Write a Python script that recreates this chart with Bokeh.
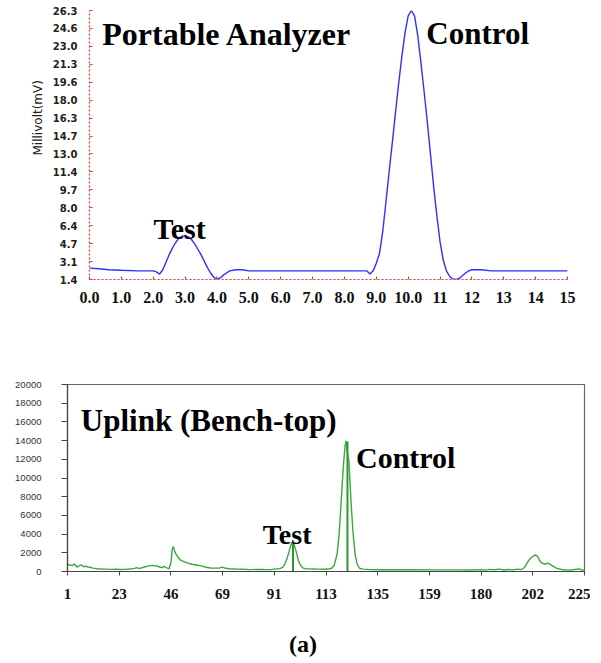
from bokeh.plotting import figure
from bokeh.models import FixedTicker, Label, ColumnDataSource, Title
from bokeh.embed import file_html
from bokeh.resources import INLINE

# ---------------- data: portable analyzer (top) ----------------
top_x = [0.0, 0.3, 0.6, 1.0, 1.5, 2.0, 2.1, 2.2, 2.3, 2.4, 2.5, 2.6, 2.7, 2.8, 2.9, 3.0,
         3.1, 3.2, 3.3, 3.4, 3.5, 3.6, 3.7, 3.8, 3.9, 4.0, 4.1, 4.2, 4.3, 4.4, 4.6, 4.8,
         5.0, 6.0, 7.0, 8.0, 8.7, 8.8, 8.9, 9.0, 9.1, 9.2, 9.3, 9.4, 9.5, 9.6, 9.7, 9.8,
         9.9, 10.0, 10.1, 10.2, 10.3, 10.4, 10.5, 10.6, 10.7, 10.8, 10.9, 11.0, 11.1,
         11.2, 11.3, 11.4, 11.5, 11.6, 11.7, 11.8, 11.9, 12.0, 12.3, 12.6, 13.0, 14.0, 15.0]
top_mv = [2.45, 2.4, 2.3, 2.25, 2.2, 2.2, 2.1, 1.9, 2.3, 3.0, 3.7, 4.3, 4.8, 5.2, 5.4, 5.45,
          5.35, 5.1, 4.7, 4.2, 3.7, 3.1, 2.5, 2.0, 1.6, 1.45, 1.55, 1.8, 2.0, 2.2, 2.3, 2.3,
          2.2, 2.2, 2.2, 2.2, 2.2, 1.9, 2.2, 2.9, 3.8, 5.8, 8.5, 11.3, 14.0, 16.8, 19.5, 22.0,
          24.2, 25.8, 26.3, 25.8, 24.0, 21.5, 18.8, 16.0, 13.0, 10.0, 7.3, 4.9, 3.2,
          2.2, 1.7, 1.45, 1.4, 1.5, 1.75, 2.0, 2.2, 2.3, 2.3, 2.2, 2.2, 2.2, 2.2]
top_xticks = list(range(0, 16))
top_xlabels = ["0.0", "1.0", "2.0", "3.0", "4.0", "5.0", "6.0", "7.0", "8.0", "9.0",
               "10.0", "11", "12", "13", "14", "15"]
top_ylabels = ["1.4", "3.1", "4.7", "6.4", "8.0", "9.7", "11.4", "13.0", "14.7", "16.3",
               "18.0", "19.6", "21.3", "23.0", "24.6", "26.3"]

# ---------------- data: uplink bench-top (bottom) ----------------
bot_x = [1, 2, 3, 4, 5, 6, 7, 8, 9, 10, 11, 12, 14, 16, 18, 20, 22, 24, 26, 28, 30, 31, 32,
         34, 36, 38, 40, 41, 42, 43, 44, 45, 45.8, 46.4, 46.9, 47.4, 48, 49, 50.1, 51.5, 53,
         55, 57, 59, 61, 63, 65, 67, 68, 69, 71, 74, 77, 80, 83, 86, 89, 91, 93, 94.2, 95.2,
         96, 96.7, 97.5, 98.2, 98.6, 99.3, 100.4, 101, 101.7, 102.9, 104, 106, 108, 110, 112,
         114, 115.5, 116.6, 117.8, 118.7, 119.5, 120.2, 120.7, 121.3, 121.7, 122.2, 122.9,
         123.4, 123.9, 124.7, 125.6, 126.5, 127.5, 129, 132, 136, 140, 150, 160, 170, 176,
         180, 182, 184, 186, 188, 190, 192, 194, 196, 197.6, 199, 200, 201.2, 202.5, 203.8,
         204.8, 205.5, 206.2, 207.7, 209.2, 210.6, 212.8, 215, 218, 220, 222.8, 224, 225]
bot_y = [750, 700, 620, 820, 480, 600, 700, 520, 560, 480, 430, 360, 300, 260, 250, 230, 250,
         220, 230, 260, 330, 420, 300, 450, 600, 650, 560, 480, 420, 560, 380, 300, 900, 2450,
         2650, 2200, 1850, 1500, 1200, 1050, 900, 780, 700, 600, 450, 380, 360, 380, 460, 380,
         300, 260, 240, 200, 230, 210, 200, 280, 300, 450, 790, 1300, 1860, 2600, 3050, 3100,
         2800, 1860, 1200, 790, 380, 300, 280, 260, 250, 240, 260, 350, 700, 1860, 4000, 7200,
         10000, 11840, 13500, 13980, 12800, 11840, 9500, 7200, 4200, 1860, 800, 350, 250, 200,
         190, 180, 180, 170, 170, 160, 200, 150, 230, 180, 250, 160, 220, 170, 250, 200, 430,
         850, 1320, 1600, 1780, 1570, 1200, 960, 780, 890, 680, 360, 210, 150, 180, 280, 150, 180]
peak_mark_x = [98.7, 122.3]
peak_mark_top = [3000, 13900]
bot_xticks_pos = [1, 23.4, 45.8, 68.2, 90.6, 113, 135.4, 157.8, 180.2, 202.6, 225]
bot_xlabels = ["1", "23", "46", "69", "91", "113", "135", "159", "180", "202", "225"]
bot_yticks = [0, 2000, 4000, 6000, 8000, 10000, 12000, 14000, 16000, 18000, 20000]
caption = "(a)"

SERIF = "Liberation Serif"
RED = "#ff2a2a"

# ---------------- top figure ----------------
p1 = figure(width=590, height=320, x_range=(0, 15), y_range=(1.4, 26.3),
            output_backend="svg", toolbar_location=None,
            min_border_left=89, min_border_right=23, min_border_top=10, min_border_bottom=41)
p1.outline_line_color = None
p1.grid.visible = False
p1.line(top_x, top_mv, line_color="#2f2fff", line_width=1.4)

p1.xaxis.ticker = FixedTicker(ticks=top_xticks)
p1.xaxis.major_label_overrides = {t: l for t, l in zip(top_xticks, top_xlabels)}
yt = [1.4 + i * (26.3 - 1.4) / 15 for i in range(16)]
p1.yaxis.ticker = FixedTicker(ticks=yt)
p1.yaxis.major_label_overrides = {t: l for t, l in zip(yt, top_ylabels)}
for ax in (p1.xaxis, p1.yaxis):
    ax.axis_line_color = RED
    ax.axis_line_dash = "2 2"
    ax.axis_line_width = 1.2
    ax.major_tick_line_color = RED
    ax.major_tick_in = 3
    ax.major_tick_out = 0
    ax.minor_tick_line_color = None
p1.xaxis.major_label_text_font = SERIF
p1.xaxis.major_label_text_font_style = "bold"
p1.xaxis.major_label_text_font_size = "16px"
p1.xaxis.major_label_text_color = "#111111"
p1.xaxis.major_label_standoff = 12
p1.yaxis.major_label_text_font = "DejaVu Sans"
p1.yaxis.major_label_text_font_style = "bold"
p1.yaxis.major_label_text_font_size = "10px"
p1.yaxis.major_label_text_color = "#222222"
p1.yaxis.major_label_standoff = 12
p1.add_layout(Title(text="Millivolt(mV)", text_font="DejaVu Sans", text_font_style="normal",
                    text_font_size="12px", text_color="#222222",
                    align="left", offset=124, standoff=9), "left")

for txt, x, y, fs in [("Portable Analyzer", 0.40, 24.15, "32px"),
                      ("Control", 10.57, 24.15, "31px"),
                      ("Test", 2.01, 6.14, "30px")]:
    p1.add_layout(Label(x=x, y=y, text=txt, text_font=SERIF, text_font_style="bold",
                        text_font_size=fs, text_color="#000000",
                        text_baseline="alphabetic", text_align="left"))

# ---------------- bottom figure ----------------
p2 = figure(width=590, height=290, x_range=(1, 225), y_range=(0, 20000),
            output_backend="svg", toolbar_location=None,
            min_border_left=67, min_border_right=6, min_border_top=64, min_border_bottom=39)
p2.outline_line_color = "#666666"
p2.outline_line_width = 1.2
p2.grid.visible = False
GREEN = "#3aa83a"
p2.line(bot_x, bot_y, line_color=GREEN, line_width=1.4)
src = ColumnDataSource(dict(x=peak_mark_x, top=peak_mark_top, base=[0] * len(peak_mark_x)))
p2.segment(x0="x", y0="base", x1="x", y1="top", source=src, line_color="#2a9a2a", line_width=2)

p2.xaxis.ticker = FixedTicker(ticks=bot_xticks_pos)
p2.xaxis.major_label_overrides = {t: l for t, l in zip(bot_xticks_pos, bot_xlabels)}
p2.yaxis.ticker = FixedTicker(ticks=bot_yticks)
for ax in (p2.xaxis, p2.yaxis):
    ax.axis_line_color = "#444444"
    ax.axis_line_width = 1.2
    ax.major_tick_line_color = "#444444"
    ax.minor_tick_line_color = None
    ax.major_tick_in = 0
p2.xaxis.major_tick_out = 4
p2.yaxis.major_tick_out = 6
p2.xaxis.major_label_text_font = SERIF
p2.xaxis.major_label_text_font_style = "bold"
p2.xaxis.major_label_text_font_size = "15px"
p2.xaxis.major_label_text_color = "#111111"
p2.xaxis.major_label_standoff = 13
p2.yaxis.major_label_text_font = "Liberation Sans"
p2.yaxis.major_label_text_font_size = "9.5px"
p2.yaxis.major_label_text_color = "#333333"
p2.yaxis.major_label_standoff = 20

for txt, x, y, fs in [("Uplink (Bench-top)", 6.77, 16192, "31px"),
                      ("Control", 126.0, 12192, "30px"),
                      ("Test", 85.6, 4000, "28px")]:
    p2.add_layout(Label(x=x, y=y, text=txt, text_font=SERIF, text_font_style="bold",
                        text_font_size=fs, text_color="#000000",
                        text_baseline="alphabetic", text_align="left"))

# ---------------- caption strip ----------------
p3 = figure(width=590, height=50, x_range=(1, 225), y_range=(0, 1),
            output_backend="svg", toolbar_location=None,
            min_border_left=67, min_border_right=6, min_border_top=0, min_border_bottom=0)
p3.axis.visible = False
p3.grid.visible = False
p3.outline_line_color = None
p3.add_layout(Label(x=103.0, y=0.33, text=caption, text_font=SERIF, text_font_style="bold",
                    text_font_size="24px", text_color="#000000",
                    text_baseline="middle", text_align="center"))

open("out.html", "w").write(file_html([p1, p2, p3], INLINE))
